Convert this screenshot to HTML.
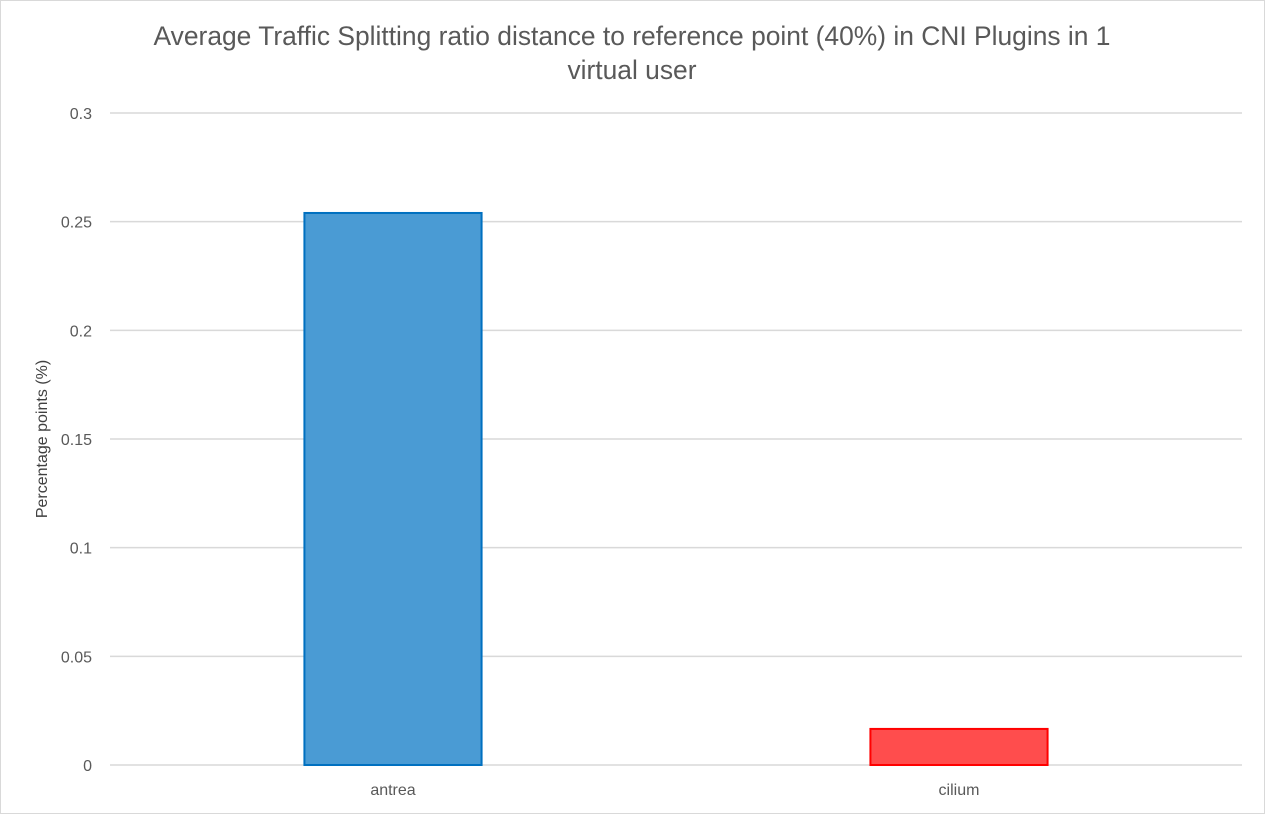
<!DOCTYPE html>
<html><head><meta charset="utf-8"><style>
html,body{margin:0;padding:0;background:#fff}
svg{display:block;font-family:"Liberation Sans",Arial,sans-serif}
</style></head><body>
<svg id="chart" width="1265" height="814" viewBox="0 0 1265 814">
<rect x="0.5" y="0.5" width="1264" height="813" fill="#fff" stroke="#d9d9d9"/>
<text x="632" y="45" text-anchor="middle" font-size="26.4" fill="#595959">Average Traffic Splitting ratio distance to reference point (40%) in CNI Plugins in 1</text>
<text x="632" y="79" text-anchor="middle" font-size="26.4" fill="#595959">virtual user</text>
<text transform="translate(47,439) rotate(-90)" text-anchor="middle" font-size="16" fill="#404040">Percentage points (%)</text>
<g id="grid"></g><g id="bars"></g><g id="labels"></g>
</svg>
<script>
const categories=["antrea","cilium"];
const values=[0.254,0.0166];
const ticks=[0,0.05,0.1,0.15,0.2,0.25,0.3];
const tickLabels=["0","0.05","0.1","0.15","0.2","0.25","0.3"];
const fills=["#4a9bd4","#ff4d4d"];
const strokes=["#0070c0","#ff0000"];
const NS="http://www.w3.org/2000/svg";
const x0=110,x1=1242,y0=765,y1=113,ymax=0.3;
const y=v=>y0-(v/ymax)*(y0-y1);
const bw=(x1-x0)/categories.length;
const xc=i=>x0+bw*(i+0.5);
const grid=document.getElementById('grid'),bars=document.getElementById('bars'),labels=document.getElementById('labels');
function mk(t,a,p){const e=document.createElementNS(NS,t);for(const k in a)e.setAttribute(k,a[k]);p.appendChild(e);return e;}
ticks.forEach((t,i)=>{
 const l=mk('line',{x1:x0,x2:x1,y1:y(t),y2:y(t),stroke:'#d9d9d9','stroke-width':1.5},grid);
 
 
 const tx=mk('text',{x:92,y:y(t)+6,'text-anchor':'end','font-size':16,fill:'#595959'},labels);
 tx.textContent=tickLabels[i];
 
 
});
categories.forEach((c,i)=>{
 const w=bw*0.313;
 const r=mk('rect',{x:xc(i)-w/2,y:y(values[i]),width:w,height:y0-y(values[i]),fill:fills[i],stroke:strokes[i],'stroke-width':2},bars);
 
 
 const tx=mk('text',{x:xc(i),y:795,'text-anchor':'middle','font-size':16,fill:'#595959'},labels);
 tx.textContent=c;
 
 
});
</script>
</body></html>
